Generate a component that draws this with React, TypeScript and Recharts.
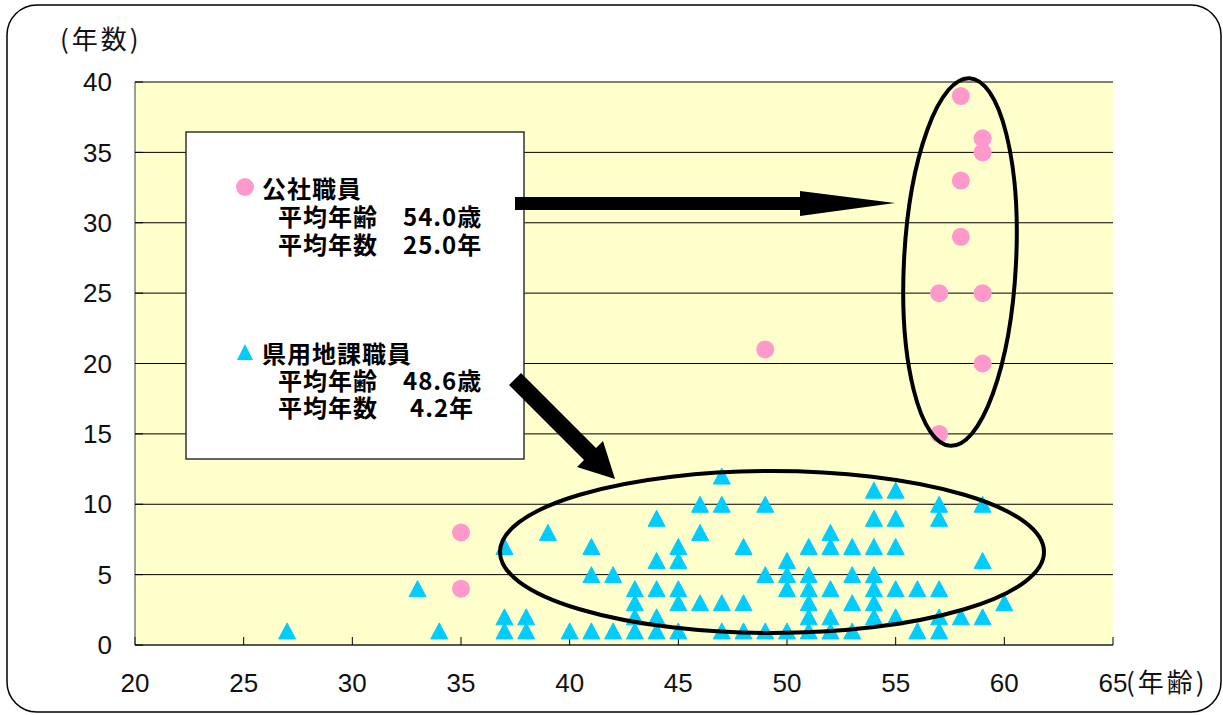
import { ScatterChart, Scatter, XAxis, YAxis, CartesianGrid } from 'recharts';

// 公社職員 (age, years)
const kosyaAges = [58, 59, 59, 58, 58, 57, 59, 59, 57, 49, 35, 35];
const kosyaYears = [39, 36, 35, 33, 29, 25, 25, 20, 15, 21, 8, 4];

// 県用地課職員 (age, years)
const kenAges = [
  27, 33, 34, 37, 37, 37, 38, 38, 39, 40, 41, 41, 41, 42, 42, 43, 43, 43, 43,
  44, 44, 44, 44, 44, 45, 45, 45, 45, 45, 46, 46, 46, 47, 47, 47, 47, 48, 48, 48,
  49, 49, 49, 50, 50, 50, 50, 51, 51, 51, 51, 51, 51, 52, 52, 52, 52, 52,
  53, 53, 53, 53, 54, 54, 54, 54, 54, 54, 54, 55, 55, 55, 55, 55, 56, 56,
  57, 57, 57, 57, 57, 58, 59, 59, 59, 60,
];
const kenYears = [
  1, 4, 1, 7, 2, 1, 2, 1, 8, 1, 7, 5, 1, 5, 1, 4, 3, 2, 1,
  9, 6, 4, 2, 1, 7, 6, 4, 3, 1, 10, 8, 3, 12, 10, 3, 1, 7, 3, 1,
  10, 5, 1, 6, 5, 4, 1, 7, 5, 4, 3, 2, 1, 8, 7, 4, 2, 1,
  7, 5, 3, 1, 11, 9, 7, 5, 4, 3, 2, 11, 9, 7, 4, 2, 4, 1,
  10, 9, 4, 2, 1, 2, 10, 6, 2, 3,
];

const xTicks = [20, 25, 30, 35, 40, 45, 50, 55, 60, 65];
const yTicks = [0, 5, 10, 15, 20, 25, 30, 35, 40];

const kosyaData = kosyaAges.map((x, i) => ({ x, y: kosyaYears[i] }));
const kenData = kenAges.map((x, i) => ({ x, y: kenYears[i] }));

const PINK = '#FF99CC';
const CYAN = '#00CCFF';
const NUM_FONT = '"Liberation Sans", Arial, sans-serif';
const JP_FONT = '"Noto Sans CJK JP", sans-serif';

const Circle = (p: any) => <circle cx={p.cx} cy={p.cy} r={9} fill={PINK} />;
const Tri = (p: any) => (
  <polygon
    points={`${p.cx},${p.cy - 8} ${p.cx - 8.5},${p.cy + 8} ${p.cx + 8.5},${p.cy + 8}`}
    fill={CYAN}
    stroke={CYAN}
    strokeWidth={1}
    strokeLinejoin="round"
  />
);

const XTick = (p: any) => {
  const v = p.payload.value;
  return (
    <g>
      <text x={p.x} y={p.y} dy="0.71em" textAnchor="middle" fontSize={26} fontFamily={NUM_FONT} fill="#111">
        {v}
      </text>
      {v === 65 && (
        <text x={p.x + 13} y={p.y} dy="0.71em" textAnchor="start" fontSize={26} letterSpacing={3} fontFamily={JP_FONT} fill="#111">
          (年齢)
        </text>
      )}
    </g>
  );
};

const lineStyle = { fontSize: 24, fontWeight: 700, fontFamily: JP_FONT, fill: '#000', letterSpacing: 1 };

export default function App() {
  return (
    <div style={{ position: 'absolute', left: 0, top: 0, width: 1223, height: 715, background: '#fff' }}>
      <ScatterChart width={1223} height={715} margin={{ top: 82, right: 110, bottom: 30, left: 75 }}>
        <CartesianGrid vertical={false} stroke="#000" fill="#FFFFCC" fillOpacity={1} />
        <XAxis
          type="number"
          dataKey="x"
          domain={[20, 65]}
          ticks={xTicks}
          allowDataOverflow
          height={40}
          tickSize={-8}
          tickMargin={37}
          tick={XTick}
          axisLine={{ stroke: '#223333' }}
          tickLine={{ stroke: '#000' }}
        />
        <XAxis xAxisId="top" orientation="top" type="number" domain={[20, 65]} height={0} tick={false} tickLine={false} axisLine={{ stroke: '#CCFFFF', strokeWidth: 3 }} />
        <YAxis
          type="number"
          dataKey="y"
          domain={[0, 40]}
          ticks={yTicks}
          width={60}
          tickSize={-8}
          tickMargin={31}
          tick={{ fontSize: 26, fontFamily: NUM_FONT, fill: '#111' }}
          axisLine={{ stroke: '#334444' }}
          tickLine={{ stroke: '#000' }}
        />
        <YAxis yAxisId="right" orientation="right" type="number" domain={[0, 40]} width={0} tick={false} tickLine={false} axisLine={{ stroke: '#CCFFFF', strokeWidth: 3 }} />
        <Scatter data={kenData} shape={Tri} isAnimationActive={false} />
        <Scatter data={kosyaData} shape={Circle} isAnimationActive={false} />
      </ScatterChart>

      <svg width={1223} height={715} style={{ position: 'absolute', left: 0, top: 0, pointerEvents: 'none' }}>
        <rect x={7} y={5} width={1214} height={707} rx={30} ry={30} fill="none" stroke="#000" strokeWidth={1.5} />

        <text x={60} y={37} dominantBaseline="central" fontSize={26} letterSpacing={3} fontFamily={JP_FONT} fill="#111">
          (年数)
        </text>

        <rect x={186} y={132} width={338} height={327} fill="#fff" stroke="#333" strokeWidth={1.5} />
        <circle cx={245} cy={187} r={9} fill={PINK} />
        <text x={262} y={187} dominantBaseline="central" style={lineStyle}>公社職員</text>
        <text x={278} y={215} dominantBaseline="central" style={lineStyle}>平均年齢</text>
        <text x={403} y={215} dominantBaseline="central" style={lineStyle}>54.0歳</text>
        <text x={278} y={243} dominantBaseline="central" style={lineStyle}>平均年数</text>
        <text x={403} y={243} dominantBaseline="central" style={lineStyle}>25.0年</text>

        <polygon points="245,344 237,360 253,360" fill={CYAN} />
        <text x={262} y={352} dominantBaseline="central" style={lineStyle}>県用地課職員</text>
        <text x={278} y={379} dominantBaseline="central" style={lineStyle}>平均年齢</text>
        <text x={403} y={379} dominantBaseline="central" style={lineStyle}>48.6歳</text>
        <text x={278} y={406} dominantBaseline="central" style={lineStyle}>平均年数</text>
        <text x={410} y={406} dominantBaseline="central" style={lineStyle}>4.2年</text>

        <polygon points="515,197 800,197 800,191 895,203 800,216 800,210 515,210" fill="#000" />
        <polygon points="521,373 596,448 603,441 615,479 577,467 584,460 509,385" fill="#000" />

        <ellipse cx={960} cy={262} rx={56} ry={184} transform="rotate(3 960 262)" fill="none" stroke="#000" strokeWidth={4} />
        <ellipse cx={772} cy={552} rx={272} ry={81} fill="none" stroke="#000" strokeWidth={4} />
      </svg>
    </div>
  );
}
